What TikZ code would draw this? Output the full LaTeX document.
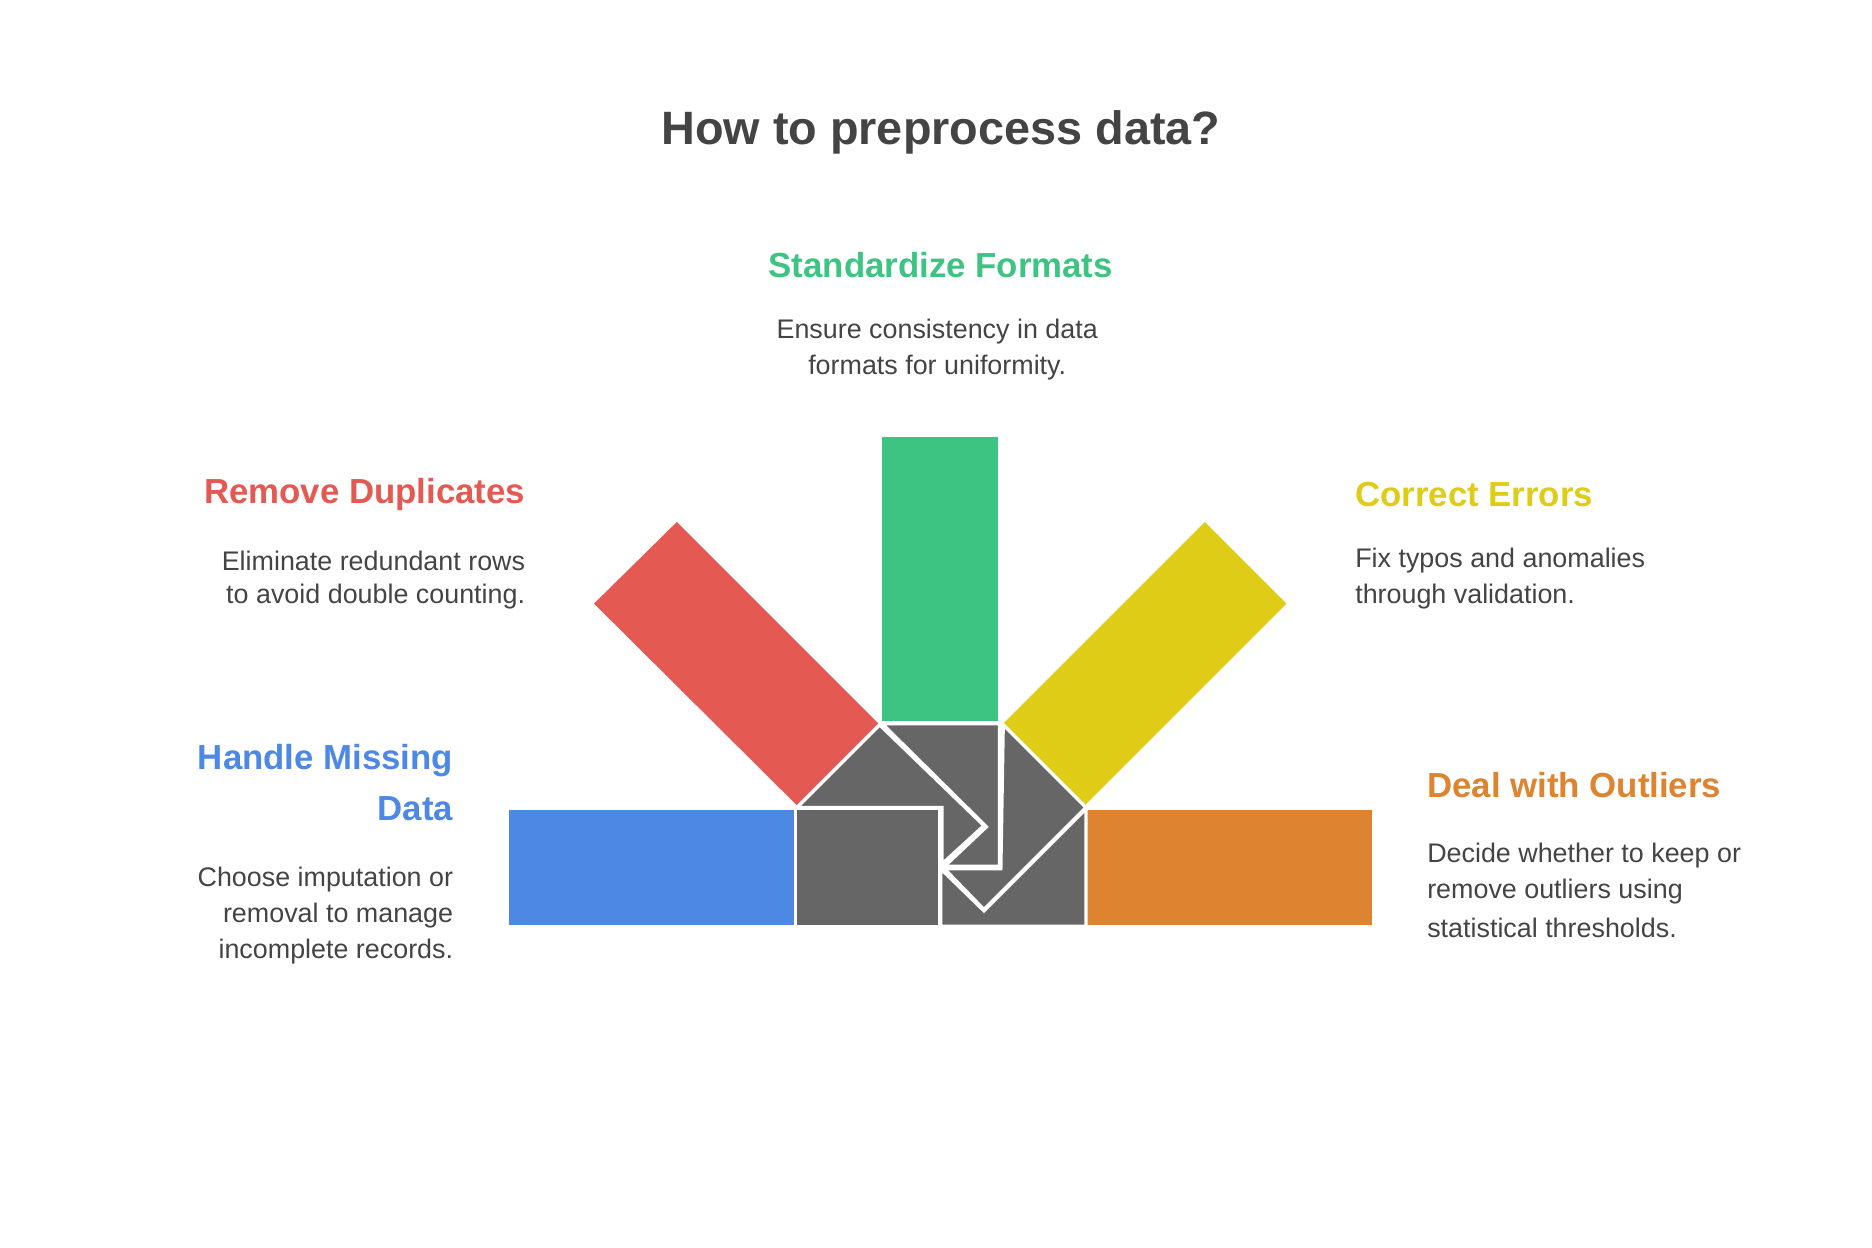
\documentclass[tikz,border=0pt]{standalone}
\usepackage{fontspec}
\setmainfont{Liberation Sans}
\definecolor{cred}{HTML}{E55953}
\definecolor{cgreen}{HTML}{3DC483}
\definecolor{cyellow}{HTML}{DFCC16}
\definecolor{cblue}{HTML}{4E88E5}
\definecolor{corange}{HTML}{DE8330}
\definecolor{cgray}{HTML}{666666}
\definecolor{ctext}{HTML}{444444}
\begin{document}
\begin{tikzpicture}[x=0.5pt,y=-0.5pt,
  piece/.style={fill=cgray,draw=white,line width=1.4pt,line join=miter},
  bar/.style={draw=none},
  head/.style={font=\fontsize{14.5}{17}\selectfont\bfseries,inner sep=0pt},
  body/.style={font=\fontsize{11.2}{15}\selectfont,text=ctext,inner sep=0pt}]
\useasboundingbox (0,0) rectangle (1560,1040);
% bars
\fill[cblue] (424,675) rectangle (662,771);
\fill[corange] (905,675) rectangle (1143,771);
\fill[cgreen] (735,364) rectangle (832,601);
\fill[cred] (495,503) -- (564,435) -- (732,603) -- (664,671) -- cycle;
\fill[cyellow] (1004,435) -- (1072,503) -- (904,671) -- (836,603) -- cycle;
% gray pieces
\draw[piece] (664,673) -- (733,604) -- (820,688) -- (785,720) -- (785,673) -- cycle;
\draw[piece] (735,603) -- (833,603) -- (833,722) -- (787,722) -- (822,689) -- cycle;
\draw[piece] (836,604) -- (905,673) -- (820,758) -- (787,724) -- (834,724) -- cycle;
\draw[piece] (663,674) rectangle (783,772);
\draw[piece] (784,724) -- (820,759) -- (905,674) -- (905,772) -- (784,772) -- cycle;
% texts
\node[font=\fontsize{19.5}{22}\selectfont\bfseries,text=ctext] (title) at (784,110) {How to preprocess data?};
\node[head,text=cgreen] (h1) at (784,221) {Standardize Formats};
\node[body] (b1a) at (781,276) {Ensure consistency in data};
\node[body] (b1b) at (781,306) {formats for uniformity.};
\node[head,text=cred,anchor=east] (h2) at (438,412) {Remove Duplicates};
\node[body,anchor=east] (b2a) at (438,467) {Eliminate redundant rows};
\node[body,anchor=east] (b2b) at (438,497) {to avoid double counting.};
\node[head,text=cyellow,anchor=west] (h3) at (1129,412) {Correct Errors};
\node[body,anchor=west] (b3a) at (1129,467) {Fix typos and anomalies};
\node[body,anchor=west] (b3b) at (1129,497) {through validation.};
\node[head,text=cblue,anchor=east] (h4a) at (378,634) {Handle Missing};
\node[head,text=cblue,anchor=east] (h4b) at (378,674) {Data};
\node[body,anchor=east] (b4a) at (378,733) {Choose imputation or};
\node[body,anchor=east] (b4b) at (378,763) {removal to manage};
\node[body,anchor=east] (b4c) at (378,793) {incomplete records.};
\node[head,text=corange,anchor=west] (h5) at (1189,654) {Deal with Outliers};
\node[body,anchor=west] (b5a) at (1189,713) {Decide whether to keep or};
\node[body,anchor=west] (b5b) at (1189,743) {remove outliers using};
\node[body,anchor=west] (b5c) at (1189,773) {statistical thresholds.};
\end{tikzpicture}
\end{document}
